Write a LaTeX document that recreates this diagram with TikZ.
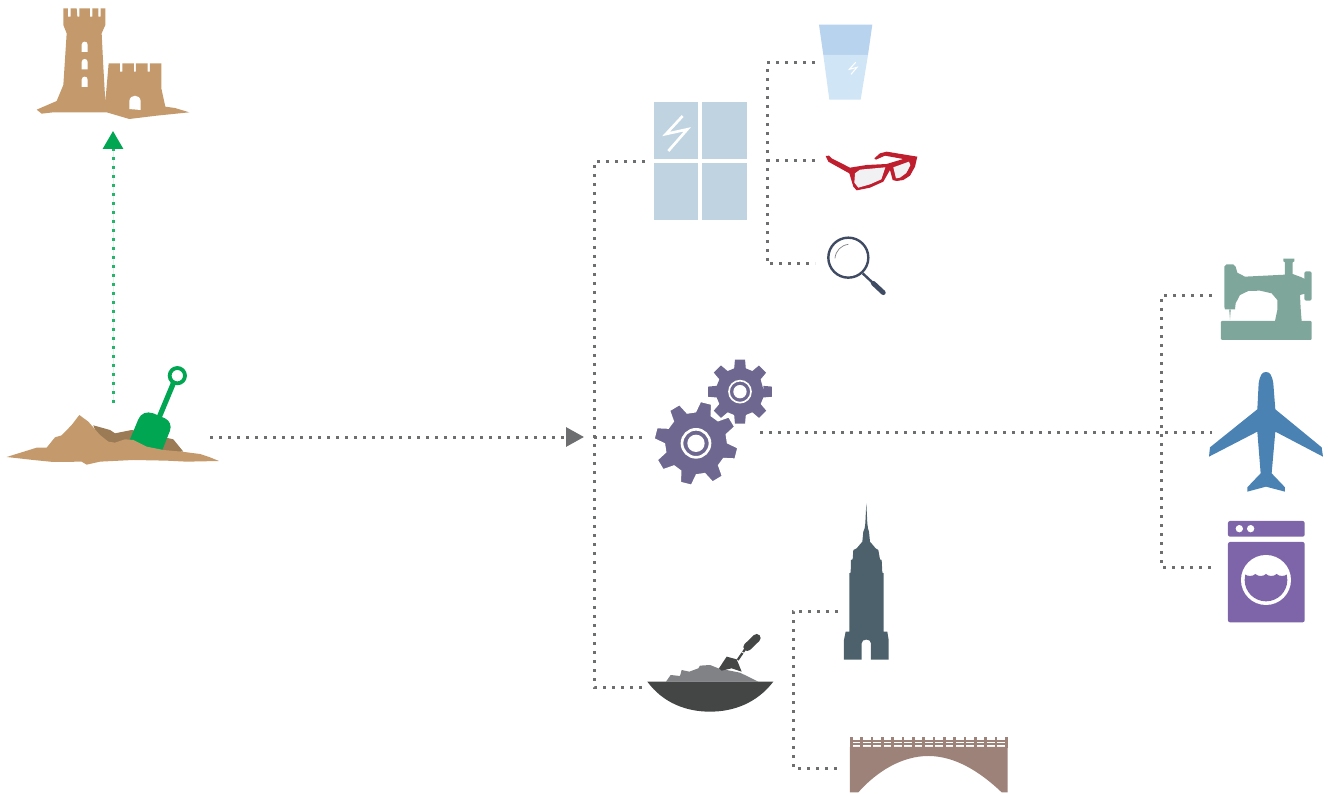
\documentclass[tikz,border=0pt]{standalone}
\usepackage{xcolor}
\usetikzlibrary{arrows.meta}
\definecolor{sandtan}{HTML}{C49A6C}
\definecolor{sanddark}{HTML}{9A7B56}
\definecolor{spadegreen}{HTML}{00A651}
\definecolor{linkgray}{HTML}{6D6E70}
\definecolor{glassblue}{HTML}{BFD3E1}
\definecolor{waterdark}{HTML}{B7D3EE}
\definecolor{waterlight}{HTML}{D0E5F6}
\definecolor{specred}{HTML}{BE1E2D}
\definecolor{speclens}{HTML}{F1F1F3}
\definecolor{lensnavy}{HTML}{3F4A63}
\definecolor{gearpurple}{HTML}{6E6890}
\definecolor{sewgreen}{HTML}{7FA69B}
\definecolor{planeblue}{HTML}{4A82B3}
\definecolor{washpurple}{HTML}{7E64A8}
\definecolor{towerslate}{HTML}{4C616B}
\definecolor{bowldark}{HTML}{434645}
\definecolor{mixgray}{HTML}{808285}
\definecolor{bridgebrown}{HTML}{9C8278}
\begin{document}
\begin{tikzpicture}[x=1pt, y=-1pt,
  link/.style={draw=linkgray, line width=3pt, dash pattern=on 3pt off 6pt},
  riselink/.style={draw=spadegreen!85, fill=spadegreen, line width=3pt, dash pattern=on 3pt off 6pt},
  arr/.style={-{Triangle[length=18pt, width=19pt]}},
  risearr/.style={-{Triangle[length=18pt, width=20pt, color=spadegreen]}},
  hole/.style={fill=white},
  zoomed/.style={scale=1/3}]
  \useasboundingbox (0,0) rectangle (1331,794);
  % connector ends
  \coordinate (sandout) at (210,437);
  \coordinate (sandup) at (113,403);
  \coordinate (castlein) at (113,131);
  \coordinate (busin) at (584,437);
  \coordinate (windowbus) at (594,162);
  \coordinate (gearbus) at (594,437);
  \coordinate (mortarbus) at (594,687);
  \coordinate (windowin) at (645,162);
  \coordinate (gearin) at (645,437);
  \coordinate (mortarin) at (645,687);
  \coordinate (windowout) at (767,161);
  \coordinate (glassturn) at (767,63);
  \coordinate (lensturn) at (767,264);
  \coordinate (waterin) at (815,63);
  \coordinate (specin) at (818,161);
  \coordinate (lensin) at (815,264);
  \coordinate (gearout) at (760,432);
  \coordinate (planein) at (1212,432);
  \coordinate (sewturn) at (1161,296);
  \coordinate (washturn) at (1161,567);
  \coordinate (sewin) at (1212,296);
  \coordinate (washin) at (1212,567);
  \coordinate (mixtop) at (793,611);
  \coordinate (mixlow) at (793,768);
  \coordinate (towerin) at (838,611);
  \coordinate (bridgein) at (842,768);
  % connectors
  \draw[riselink, risearr] (sandup) -- (castlein);
  \draw[link, arr] (sandout) -- (busin);
  \draw[link] (windowin) -- (windowbus) -- (mortarbus) -- (mortarin);
  \draw[link] (gearbus) -- (gearin);
  \draw[link] (waterin) -- (glassturn) -- (lensturn) -- (lensin);
  \draw[link] (windowout) -- (specin);
  \draw[link] (gearout) -- (planein);
  \draw[link] (sewin) -- (sewturn) -- (washturn) -- (washin);
  \draw[link] (towerin) -- (mixtop) -- (mixlow) -- (bridgein);
  % sand castle
  \begin{scope}[zoomed]
    \fill[sandtan] (190,25) -- (204,25) -- (204,50) -- (212,50) -- (212,25) -- (230,25) -- (232,50) -- (238,50) -- (238,25)
      -- (270,25) -- (270,50) -- (277,50) -- (277,25) -- (295,25) -- (295,50) -- (302,50) -- (302,25) -- (316,25) -- (316,75)
      -- (305,100) -- (310,200) -- (316,305) -- (326,190) -- (360,190) -- (360,215) -- (367,215) -- (367,190) -- (402,190)
      -- (402,215) -- (408,215) -- (408,190) -- (443,190) -- (443,215) -- (450,215) -- (450,190) -- (484,190) -- (484,265)
      -- (496,320) -- (525,324) -- (568,337) -- (470,347) -- (388,357) -- (320,337) -- (160,337) -- (125,341) -- (110,329)
      -- (170,303) -- (190,255) -- (200,100) -- (190,75) -- cycle;
    \foreach \wy in {120,172,225}
      \fill[hole] (245,\wy+36) -- (245,\wy+14) .. controls (245,\wy+2) and (263,\wy+2) .. (263,\wy+14) -- (263,\wy+36) -- cycle;
    \fill[hole] (388,327) -- (388,303) .. controls (390,282) and (420,282) .. (422,303) -- (422,330) -- cycle;
  \end{scope}
  % sand heap and spade
  \begin{scope}[zoomed, shift={(0,1050)}]
    \fill[sanddark] (280,226) -- (330,240) -- (345,250) -- (395,240) -- (520,268) -- (550,305) -- (400,310) -- (300,280) -- cycle;
    \draw[spadegreen, line width=5.2pt] (470,220) -- (520,100);
    \draw[spadegreen, line width=3.8pt] (532,77) circle (23);
    \fill[spadegreen] (385,280) -- (415,208) .. controls (422,190) and (440,183) .. (460,190) -- (495,205)
      .. controls (510,212) and (515,228) .. (510,242) -- (485,305) -- cycle;
    \fill[sandtan] (20,321) -- (110,293) -- (140,293) -- (165,262) -- (185,256) -- (215,225) -- (238,195) -- (265,215)
      -- (300,255) -- (325,275) -- (345,278) -- (375,268) -- (400,270) -- (440,290) -- (490,300) -- (545,305) -- (600,312)
      -- (630,322) -- (657,333) -- (560,335) -- (500,332) -- (400,330) -- (300,335) -- (260,344) -- (245,335) -- (160,336)
      -- (100,330) -- cycle;
  \end{scope}
  % window
  \begin{scope}[zoomed, shift={(1920,30)}]
    \fill[glassblue] (42,276) rectangle (321,630);
    \fill[hole] (174,276) rectangle (186,630);
    \fill[hole] (42,448) rectangle (321,459);
    \draw[white, line width=8/3] (128,318) -- (78,372) -- (142,358) -- (85,423);
    % glass of water
    \fill[waterdark] (537,44) -- (697,44) -- (684,135) -- (550,135) -- cycle;
    \fill[waterlight] (550,135) -- (684,135) -- (662,269) -- (568,269) -- cycle;
    \draw[white, line width=1pt] (647,157) -- (628,178) -- (651,172) -- (633,193);
    % spectacles
    \fill[specred] (557,438) -- (567,437) -- (575,445) -- (630,473) -- (680,465) -- (740,462) -- (790,447) -- (735,437)
      -- (708,449) -- (703,445) -- (720,430) -- (740,425) -- (832,440) -- (825,470) -- (810,497) -- (790,510) -- (770,513)
      -- (758,510) -- (750,480) -- (730,515) -- (690,533) -- (650,541) -- (640,530) -- (628,490) -- (565,455) -- cycle;
    \fill[speclens] (645,490) -- (660,479) -- (736,472) -- (724,508) -- (690,523) -- (655,533) -- (643,518) -- cycle;
    \fill[speclens] (760,472) -- (807,455) -- (811,466) -- (799,489) -- (780,503) -- (768,505) -- cycle;
    % magnifier
    \draw[lensnavy, line width=2.4pt] (625,743) circle (60);
    \draw[mixgray, line width=0.7pt] (585,745) .. controls (587,722) and (603,706) .. (625,703);
    \draw[lensnavy, line width=2.4pt] (668,790) -- (700,820);
    \draw[lensnavy, line width=4.8pt, line cap=round] (700,820) -- (730,848);
  \end{scope}
  % gears
  \begin{scope}[zoomed, shift={(1680,1050)}]
    \begin{scope}[shift={(540,125)}]
      \fill[gearpurple] (0:72) \foreach \a in {0,45,...,315} {
        -- (\a-14:72) -- (\a-9:97) -- (\a+9:97) -- (\a+14:72) } -- cycle;
      \draw[white, line width=5/3] (0,0) circle (33);
      \fill[white] (0,0) circle (20);
    \end{scope}
    \begin{scope}[shift={(408,280)}]
      \fill[gearpurple, draw=white, line width=5/3] (14-15:95) \foreach \a in {14,59,...,329} {
        -- (\a-15:95) -- (\a-8:127) -- (\a+8:127) -- (\a+15:95) } -- cycle;
      \draw[white, line width=8/3] (0,0) circle (42);
      \fill[white] (0,0) circle (26);
    \end{scope}
  \end{scope}
  % sewing machine, plane, washing machine
  \begin{scope}[zoomed, shift={(3600,750)}]
    \fill[sewgreen, rounded corners=1pt] (63,213) rectangle (335,270);
    \fill[sewgreen, rounded corners=2pt] (313,64) rectangle (335,152);
    \fill[sewgreen] (73,50) -- (80,43) -- (100,43) -- (107,50) -- (112,68) -- (135,80) -- (255,74) -- (255,37) -- (250,34) -- (250,26)
      -- (283,26) -- (283,34) -- (278,37) -- (278,72) -- (305,82) -- (320,90) -- (320,130) -- (300,135) -- (302,175) -- (305,213)
      -- (225,213) -- (232,180) -- (232,150) -- (215,130) -- (180,122) -- (145,123) -- (120,135) -- (107,160) -- (105,178)
      -- (75,178) -- (73,170) -- cycle;
    \fill[sewgreen!70] (87,178) -- (93,178) -- (90,210) -- cycle;
    \fill[planeblue] (172,478) -- (30,592) -- (27,620) -- (172,545) -- (182,670) -- (142,712) -- (142,725) -- (198,710)
      -- (255,725) -- (255,712) -- (215,670) -- (226,545) -- (369,620) -- (365,592) -- (226,478) -- (220,400)
      .. controls (216,376) and (210,366) .. (198,366) .. controls (186,366) and (180,376) .. (176,400) -- cycle;
    \fill[washpurple, rounded corners=2pt] (84,813) rectangle (314,860);
    \fill[washpurple, rounded corners=2pt] (84,876) -- (314,876) -- (314,1117) -- (84,1117) -- cycle;
    \fill[white] (118,836) circle (11) (152,836) circle (11);
    \fill[white] (198,990) circle (75);
    \begin{scope}
      \clip (198,990) circle (64);
      \fill[washpurple] (118,972) \foreach \wx in {134,166,198,230,262} {
        .. controls (\wx-24,980) and (\wx-8,980) .. (\wx,972) } -- (280,1070) -- (118,1070) -- cycle;
    \end{scope}
  \end{scope}
  % mortar bowl, tower, bridge
  \begin{scope}[zoomed, shift={(1890,1500)}]
    \fill[mixgray] (108,545) -- (122,525) -- (150,528) -- (155,510) -- (178,515) -- (205,505) -- (210,497) -- (240,495)
      -- (265,505) -- (330,518) -- (385,545) -- cycle;
    \fill[bowldark] (52,545) .. controls (100,610) and (170,635) .. (240,635) .. controls (310,635) and (380,610) .. (430,545) -- cycle;
    \fill[bowldark] (267,505) -- (290,470) -- (320,478) -- (335,515) -- (305,505) -- (275,512) -- cycle;
    \draw[bowldark, line width=2.2pt] (323,480) -- (345,448);
    \draw[white, line width=0.9pt] (329,452) -- (344,461);
    \draw[bowldark, line width=8pt, line cap=round] (352,441) -- (380,414);
    \fill[towerslate] (709,10) -- (712,70) -- (714,85) -- (717,95) -- (720,125) -- (737,145) -- (745,150) -- (750,178)
      -- (755,180) -- (757,218) -- (761,220) -- (761,395) -- (772,395) -- (776,420) -- (776,479) -- (723,479) -- (723,430)
      .. controls (723,415) and (695,415) .. (695,430) -- (695,479) -- (642,479) -- (642,420) -- (647,395) -- (658,395)
      -- (658,220) -- (662,218) -- (663,180) -- (668,178) -- (670,150) -- (680,145) -- (697,125) -- (700,95) -- (704,85)
      -- (706,70) -- cycle;
    \fill[bridgebrown] (660,741) -- (1133,741) -- (1133,877) -- (1115,877) .. controls (1050,815) and (975,768) .. (895,768)
      .. controls (815,768) and (740,815) .. (685,877) -- (660,877) -- cycle;
    \foreach \px in {660,691,...,1125}
      \fill[bridgebrown] (\px,711) rectangle (\px+8,745);
    \foreach \ry in {722,733}
      \fill[bridgebrown] (660,\ry-3) rectangle (1133,\ry+3);
  \end{scope}
\end{tikzpicture}
\end{document}
